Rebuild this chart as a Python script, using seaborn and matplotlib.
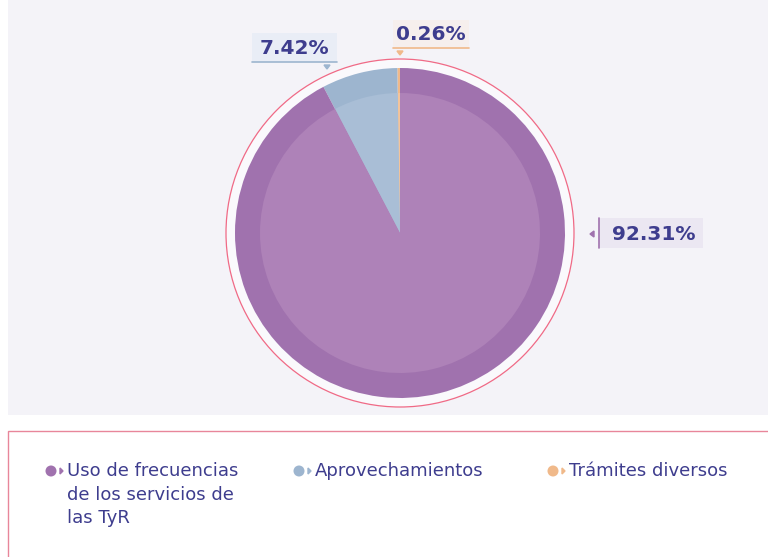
import numpy as np
import seaborn as sns
import matplotlib.pyplot as plt
from matplotlib.patches import Rectangle, Circle, Polygon

# datos
categorias = ["Uso de frecuencias\nde los servicios de\nlas TyR", "Aprovechamientos", "Trámites diversos"]
porcentajes = [92.31, 7.42, 0.26]
colores = ["#a072ae", "#9db5cf", "#f0b98a"]
colores_claros = ["#ae82b8", "#a9bed6", "#f3c49b"]
etiquetas = ["92.31%", "7.42%", "0.26%"]

sns.set_style("white")
plt.rcParams['font.family'] = ['DejaVu Sans']
texto = "#3e3d8e"

fig = plt.figure(figsize=(7.68, 5.57), dpi=100)
fig.patch.set_facecolor("white")

# fondo en pixeles
bg = fig.add_axes([0, 0, 1, 1])
bg.set_xlim(0, 768)
bg.set_ylim(557, 0)
bg.axis("off")
bg.add_patch(Rectangle((8, 0), 760, 415, facecolor="#f4f3f8", edgecolor="none"))
bg.add_patch(Rectangle((8, 431), 775, 140, facecolor="white", edgecolor="#e8869a", lw=1))

# pastel
cx, cy, R = 400, 233, 180
ax = fig.add_axes([(cx - R) / 768, 1 - (cy + R) / 557, 2 * R / 768, 2 * R / 557])
ax.add_patch(Circle((0, 0), 174, facecolor="#faf9fc", edgecolor="#f06a86", lw=0.9))
ax.pie(porcentajes[::-1], colors=colores[::-1], radius=165, startangle=90,
       counterclock=True, wedgeprops=dict(linewidth=0), frame=True)
ax.pie(porcentajes[::-1], colors=colores_claros[::-1], radius=140, startangle=90,
       counterclock=True, wedgeprops=dict(linewidth=0), frame=True)
ax.set_xlim(-R, R)
ax.set_ylim(-R, R)
ax.set_aspect("equal")
ax.axis("off")

# etiquetas
cajas = [
    # (x0, y0, x1, y1, fondo, borde, lado, punta)
    (599, 218, 703, 248, "#ebe7f2", colores[0], "left", (592, 234)),
    (252, 33, 337, 62, "#e9edf6", colores[1], "bottom", (327, 67)),
    (393, 20, 469, 48, "#f6efed", colores[2], "bottom", (400, 53)),
]
for (x0, y0, x1, y1, fc, ec, lado, punta), lab in zip(cajas, etiquetas):
    bg.add_patch(Rectangle((x0, y0), x1 - x0, y1 - y0, facecolor=fc, edgecolor="none"))
    px, py = punta
    if lado == "left":
        bg.plot([x0, x0], [y0, y1], color=ec, lw=1.2)
        bg.add_patch(Polygon([[px - 2, py], [px + 2, py - 3], [px + 2, py + 3]], color=ec))
    else:
        bg.plot([x0, x1], [y1, y1], color=ec, lw=1.2)
        bg.add_patch(Polygon([[px - 3, py - 2], [px + 3, py - 2], [px, py + 2]], color=ec))
    bg.text((x0 + x1) / 2 + (3 if lado == "left" else 0), (y0 + y1) / 2 + 1, lab,
            ha="center", va="center", fontsize=14.5, fontweight="bold", color=texto)

# leyenda
leg_x = [51, 299, 553]
for x, cat, c in zip(leg_x, categorias, colores):
    bg.add_patch(Circle((x, 471), 5.5, facecolor=c, edgecolor="none"))
    bg.add_patch(Polygon([[x + 9, 468], [x + 12, 471], [x + 9, 474]], color=c))
    bg.text(x + 16, 462, cat, ha="left", va="top", fontsize=13, color=texto,
            linespacing=1.4)

fig.savefig("out.png", dpi=100)
